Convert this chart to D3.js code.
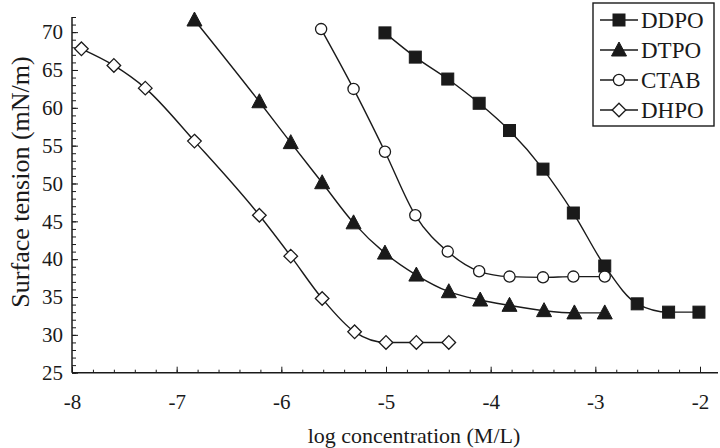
<!DOCTYPE html>
<html>
<head>
<meta charset="utf-8">
<script src="https://cdn.jsdelivr.net/npm/d3@7"></script>
<style>
body { margin: 0; background: #fff; }
svg { display: block; font-family: "Liberation Serif", "Times New Roman", serif; }
</style>
</head>
<body>
<svg id="chart" width="720" height="448"></svg>
<script>
// values
var ddpoX = [-5.01, -4.72, -4.41, -4.11, -3.82, -3.50, -3.21, -2.91, -2.60, -2.30, -2.01];
var ddpoY = [69.9, 66.7, 63.8, 60.6, 57.0, 51.9, 46.1, 39.1, 34.1, 33.0, 33.0];

var dtpoX = [-6.83, -6.21, -5.91, -5.61, -5.31, -5.01, -4.71, -4.40, -4.10, -3.82, -3.49, -3.20, -2.91];
var dtpoY = [71.6, 60.8, 55.4, 50.1, 44.8, 40.8, 37.9, 35.7, 34.6, 33.9, 33.2, 32.9, 32.9];

var ctabX = [-5.62, -5.31, -5.01, -4.72, -4.41, -4.11, -3.82, -3.50, -3.21, -2.91];
var ctabY = [70.4, 62.5, 54.2, 45.8, 41.0, 38.4, 37.7, 37.6, 37.7, 37.7];

var dhpoX = [-7.91, -7.60, -7.30, -6.83, -6.21, -5.91, -5.61, -5.30, -5.00, -4.71, -4.40];
var dhpoY = [67.8, 65.6, 62.6, 55.6, 45.8, 40.4, 34.8, 30.4, 29.0, 29.0, 29.0];

var seriesNames = ["DDPO", "DTPO", "CTAB", "DHPO"];
var xTicks = [-8, -7, -6, -5, -4, -3, -2];
var yTicks = [25, 30, 35, 40, 45, 50, 55, 60, 65, 70];

var series = [
  { name: seriesNames[0], xs: ddpoX, ys: ddpoY, shape: "square" },
  { name: seriesNames[1], xs: dtpoX, ys: dtpoY, shape: "triangle" },
  { name: seriesNames[2], xs: ctabX, ys: ctabY, shape: "circle" },
  { name: seriesNames[3], xs: dhpoX, ys: dhpoY, shape: "diamond" }
];

var ink = "#1a1a1a";
var svg = d3.select("#chart");

var x = d3.scaleLinear().domain([-8, -2]).range([72, 700]);
var y = d3.scaleLinear().domain([25, 72]).range([372.7, 17]);
var xEnd = 718;

// minor ticks
var xMinor = d3.range(-8, -1.9, 0.2);
var yMinor = d3.range(25, 72.01, 1);

svg.append("g")
  .attr("transform", "translate(0," + y(25) + ")")
  .call(d3.axisBottom(x).tickValues(xMinor).tickSize(-3).tickFormat(""))
  .call(function(g){ g.select(".domain").remove(); })
  .selectAll("line").attr("stroke", ink);

svg.append("g")
  .attr("transform", "translate(" + x(-8) + ",0)")
  .call(d3.axisLeft(y).tickValues(yMinor).tickSize(-4).tickFormat(""))
  .call(function(g){ g.select(".domain").remove(); })
  .selectAll("line").attr("stroke", ink);

// major ticks with labels
var xAxis = svg.append("g")
  .attr("transform", "translate(0," + y(25) + ")")
  .call(d3.axisBottom(x).tickValues(xTicks).tickSize(-6).tickPadding(21).tickFormat(d3.format("d")));
xAxis.select(".domain").remove();
xAxis.selectAll("line").attr("stroke", ink);
xAxis.selectAll("text").attr("font-size", 21).attr("fill", ink)
  .attr("font-family", "Liberation Serif").text(function(d){ return String(d); });

var yAxis = svg.append("g")
  .attr("transform", "translate(" + x(-8) + ",0)")
  .call(d3.axisLeft(y).tickValues(yTicks).tickSize(-6).tickPadding(9));
yAxis.select(".domain").remove();
yAxis.selectAll("line").attr("stroke", ink);
yAxis.selectAll("text").attr("font-size", 21).attr("fill", ink)
  .attr("font-family", "Liberation Serif");

// axis lines
svg.append("line")
  .attr("x1", x(-8)).attr("x2", xEnd)
  .attr("y1", y(25)).attr("y2", y(25))
  .attr("stroke", ink).attr("stroke-width", 1.5);
svg.append("line")
  .attr("x1", x(-8)).attr("x2", x(-8))
  .attr("y1", y(25)).attr("y2", y(72))
  .attr("stroke", ink).attr("stroke-width", 1.5);

// axis titles
svg.append("text")
  .attr("x", 414).attr("y", 443)
  .attr("text-anchor", "middle")
  .attr("font-size", 22)
  .attr("fill", ink)
  .text("log concentration (M/L)");

svg.append("text")
  .attr("transform", "translate(29," + 182 + ") rotate(-90)")
  .attr("text-anchor", "middle")
  .attr("font-size", 26)
  .attr("fill", ink)
  .text("Surface tension (mN/m)");

var line = d3.line()
  .x(function(d){ return x(d[0]); })
  .y(function(d){ return y(d[1]); })
  .curve(d3.curveMonotoneX);

function drawMarker(g, shape) {
  if (shape == "square") {
    g.append("rect").attr("x", -6).attr("y", -6).attr("width", 12).attr("height", 12)
      .attr("fill", ink).attr("stroke", ink).attr("stroke-width", 1);
  } else if (shape == "triangle") {
    g.append("path").attr("d", "M0,-8L7.5,6L-7.5,6Z")
      .attr("fill", ink).attr("stroke", ink).attr("stroke-width", 1);
  } else if (shape == "circle") {
    g.append("circle").attr("r", 5.6)
      .attr("fill", "#fff").attr("stroke", ink).attr("stroke-width", 1.3);
  } else {
    g.append("path").attr("d", "M0,-6.8L6.8,0L0,6.8L-6.8,0Z")
      .attr("fill", "#fff").attr("stroke", ink).attr("stroke-width", 1.3);
  }
}

series.forEach(function(s){
  var pts = s.xs.map(function(v, i){ return [v, s.ys[i]]; });
  svg.append("path")
    .datum(pts)
    .attr("d", line)
    .attr("fill", "none")
    .attr("stroke", ink)
    .attr("stroke-width", 1.4);
  pts.forEach(function(p){
    var g = svg.append("g").attr("transform", "translate(" + x(p[0]) + "," + y(p[1]) + ")");
    drawMarker(g, s.shape);
  });
});

// legend
var legend = svg.append("g");
legend.append("rect")
  .attr("x", 593).attr("y", 3).attr("width", 121).attr("height", 123)
  .attr("fill", "#fff").attr("stroke", ink).attr("stroke-width", 1.4);

var rowY = [20, 50, 80, 110];
series.forEach(function(s, i){
  legend.append("line")
    .attr("x1", 600).attr("x2", 638)
    .attr("y1", rowY[i]).attr("y2", rowY[i])
    .attr("stroke", ink).attr("stroke-width", 1.4);
  var g = legend.append("g").attr("transform", "translate(619," + rowY[i] + ")");
  drawMarker(g, s.shape);
  legend.append("text")
    .attr("x", 641).attr("y", rowY[i] + 8)
    .attr("font-size", 23)
    .attr("fill", ink)
    .text(s.name);
});
</script>
</body>
</html>
